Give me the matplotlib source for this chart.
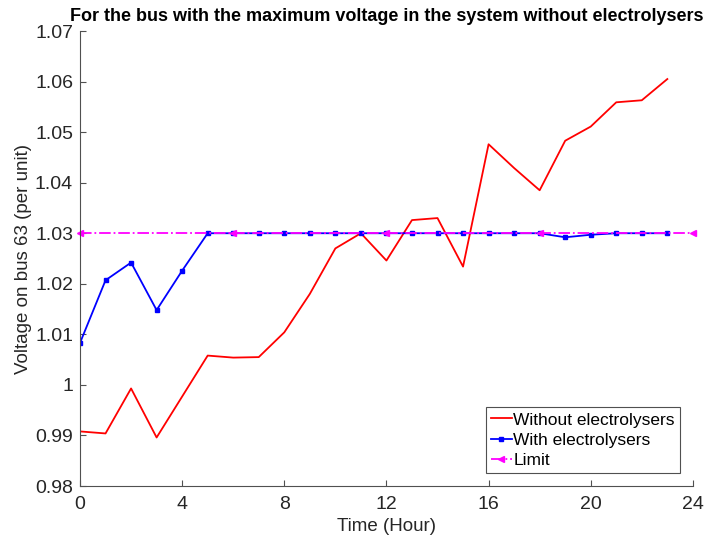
import matplotlib
matplotlib.use('Agg')
import matplotlib.pyplot as plt

plt.rcParams['font.family'] = ['Liberation Sans', 'DejaVu Sans']

hours = list(range(24))
without_elec = [0.9908, 0.9904, 0.9993, 0.9896, 0.9977, 1.0058, 1.0054, 1.0055,
                1.0104, 1.0180, 1.0270, 1.0300, 1.0246, 1.0326, 1.0330, 1.0234,
                1.0476, 1.0429, 1.0385, 1.0483, 1.0511, 1.0559, 1.0563, 1.0605]
with_elec = [1.0083, 1.0207, 1.0242, 1.0148, 1.0226, 1.0300, 1.0300, 1.0300,
             1.0300, 1.0300, 1.0300, 1.0300, 1.0300, 1.0300, 1.0300, 1.0300,
             1.0300, 1.0300, 1.0300, 1.0292, 1.0297, 1.0300, 1.0300, 1.0300]
limit_hours = [0, 6, 12, 18, 24]
limit_vals = [1.03, 1.03, 1.03, 1.03, 1.03]

x_ticks = [0, 4, 8, 12, 16, 20, 24]
y_ticks = [0.98, 0.99, 1.00, 1.01, 1.02, 1.03, 1.04, 1.05, 1.06, 1.07]
y_labels = ['0.98', '0.99', '1', '1.01', '1.02', '1.03', '1.04', '1.05', '1.06', '1.07']

fig = plt.figure(figsize=(7.24, 5.48), dpi=100)
ax = fig.add_axes([0.1105, 0.1131, 0.8465, 0.8303])

ax.plot(hours, without_elec, color='#ff0000', linewidth=1.3, label='Without electrolysers')
ax.plot(hours, with_elec, color='#0000ff', linewidth=1.3, marker='s', markersize=3.5,
        label='With electrolysers')
ax.plot(limit_hours, limit_vals, color='#ff00ff', linewidth=1.3, linestyle='-.',
        marker='<', markersize=5, label='Limit', clip_on=False)

ax.set_xlim(0, 24)
ax.set_ylim(0.98, 1.07)
ax.set_xticks(x_ticks)
ax.set_yticks(y_ticks)
ax.set_yticklabels(y_labels)

ax.spines['top'].set_visible(False)
ax.spines['right'].set_visible(False)
for s in ('left', 'bottom'):
    ax.spines[s].set_color('#505050')
    ax.spines[s].set_linewidth(0.8)
ax.tick_params(direction='in', length=4, colors='#505050', labelsize=14,
               labelcolor='#262626')
ax.tick_params(axis='x', pad=7)
ax.tick_params(axis='y', pad=5)

ax.set_xlabel('Time (Hour)', fontsize=13.5, color='#262626', labelpad=4)
ax.set_ylabel('Voltage on bus 63 (per unit)', fontsize=13.5, color='#262626', labelpad=2)
ax.set_title('For the bus with the maximum voltage in the system without electrolysers',
             fontsize=13, fontweight='bold', color='black', pad=7)

leg = ax.legend(loc='lower right', bbox_to_anchor=(0.985, 0.02), fontsize=12.5,
                handlelength=1.2, handletextpad=0.1, borderpad=0.3, labelspacing=0.3,
                fancybox=False, framealpha=1, borderaxespad=0.2)
leg.get_frame().set_edgecolor('#505050')
leg.get_frame().set_linewidth(0.8)

plt.savefig('out.png', dpi=100)
